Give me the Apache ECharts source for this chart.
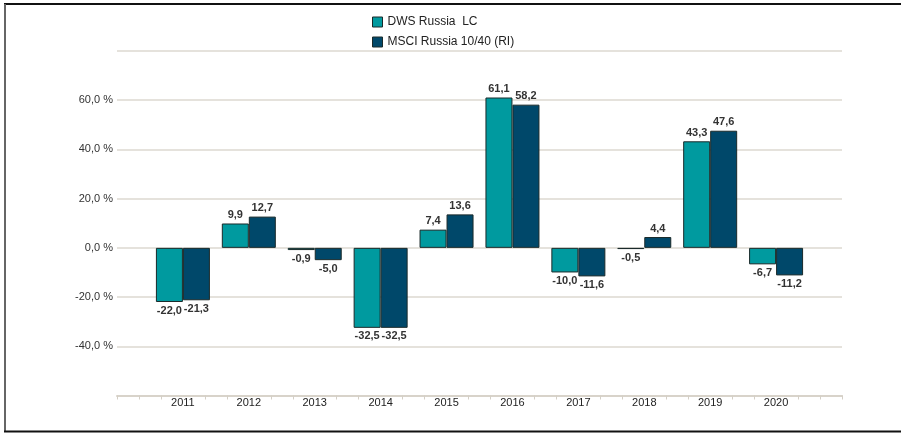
<!DOCTYPE html>
<html><head><meta charset="utf-8">
<script src="https://cdn.jsdelivr.net/npm/echarts@6/dist/echarts.min.js"></script>
<style>html,body{margin:0;padding:0;background:#fff}#c{width:901px;height:433px}</style>
</head><body><div id="c"></div>
<script>
const years = ['2011','2012','2013','2014','2015','2016','2017','2018','2019','2020'];
const dws = [-22.0, 9.9, -0.9, -32.5, 7.4, 61.1, -10.0, -0.5, 43.3, -6.7];
const msci = [-21.3, 12.7, -5.0, -32.5, 13.6, 58.2, -11.6, 4.4, 47.6, -11.2];
const seriesNames = ['DWS Russia  LC', 'MSCI Russia 10/40 (RI)'];
const colors = ['#009a9f', '#00486a'];

const cats = [''].concat(years, ['']);
const tickCats = [];
for (let i = 0; i <= 33; i++) tickCats.push(String(i));

function fmt(v) { return v.toFixed(1).replace('.', ','); }
function build(arr) {
  return [null].concat(arr.map(v => ({
    value: v,
    label: { position: v >= 0 ? 'top' : 'bottom' }
  })), [null]);
}

const chart = echarts.init(document.getElementById('c'), null, { renderer: 'canvas' });
const labelStyle = {
  show: true, fontFamily: 'Liberation Sans, Arial, sans-serif', fontSize: 11,
  fontWeight: 'bold', color: '#333', distance: 3,
  formatter: p => fmt(p.value)
};
chart.setOption({
  animation: false,
  color: colors,
  legend: {
    orient: 'vertical', left: 367, top: 11, itemWidth: 10, itemHeight: 10, itemGap: 8,
    icon: 'rect',
    textStyle: { fontFamily: 'Liberation Sans, Arial, sans-serif', fontSize: 12, color: '#222' },
    itemStyle: { borderColor: '#1a2a2a', borderWidth: 1 },
    data: seriesNames
  },
  grid: { left: 117, right: 59, top: 51, bottom: 37.5, containLabel: false },
  xAxis: [
    {
      type: 'category', data: cats, boundaryGap: false, position: 'bottom',
      axisLine: { show: false }, axisTick: { show: false },
      axisLabel: { interval: 0, margin: 2, fontFamily: 'Liberation Sans, Arial, sans-serif', fontSize: 11, color: '#222' },
      splitLine: { show: false }
    },
    {
      type: 'category', data: tickCats, boundaryGap: false, position: 'bottom',
      axisLine: { show: true, lineStyle: { color: '#d8d3ca', width: 2 } },
      axisTick: {
        show: true, length: 4, lineStyle: { color: '#d4cfc6', width: 1 },
        interval: (i) => !(i % 3 === 0 && i >= 3 && i <= 30)
      },
      axisLabel: { show: false }, splitLine: { show: false }
    }
  ],
  yAxis: {
    type: 'value', min: -60, max: 80, interval: 20,
    axisLine: { show: false }, axisTick: { show: false },
    axisLabel: {
      margin: 4, fontFamily: 'Liberation Sans, Arial, sans-serif', fontSize: 11, color: '#333',
      formatter: v => (v <= -60 || v >= 80) ? '' : fmt(v) + ' %'
    },
    splitLine: { lineStyle: { color: '#ddd9d1', width: 1.5 } }
  },
  series: [
    {
      name: seriesNames[0], type: 'bar', xAxisIndex: 0, data: build(dws),
      barWidth: 27, barGap: '0%',
      itemStyle: { color: colors[0], borderColor: '#1a2a2a', borderWidth: 1 },
      label: labelStyle
    },
    {
      name: seriesNames[1], type: 'bar', xAxisIndex: 0, data: build(msci),
      barWidth: 27, barGap: '0%',
      itemStyle: { color: colors[1], borderColor: '#1a2a2a', borderWidth: 1 },
      label: labelStyle
    }
  ],
  graphic: [
    { type: 'line', shape: { x1: 4, y1: 4, x2: 901, y2: 4 }, style: { stroke: '#111', lineWidth: 2 } },
    { type: 'line', shape: { x1: 5, y1: 4, x2: 5, y2: 432 }, style: { stroke: '#666', lineWidth: 2 } },
    { type: 'line', shape: { x1: 4, y1: 431.5, x2: 901, y2: 431.5 }, style: { stroke: '#111', lineWidth: 2 } }
  ]
});
</script></body></html>
